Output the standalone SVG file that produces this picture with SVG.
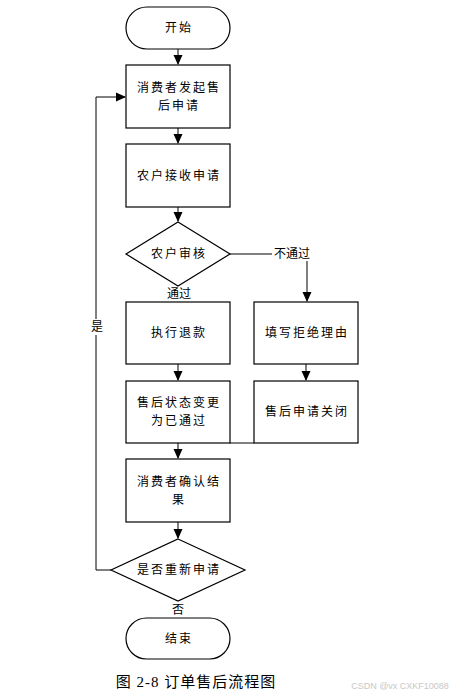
<svg xmlns="http://www.w3.org/2000/svg" width="453" height="697" viewBox="0 0 453 697">
<style>
.n{fill:#fff;stroke:#000;stroke-width:1.2}
.t{font-family:"Noto Sans CJK SC","Noto Sans",sans-serif;font-size:12px;fill:#000;text-anchor:middle;letter-spacing:2px}
.c{fill:none;stroke:#000;stroke-width:1}
.l{font-family:"Noto Sans CJK SC",sans-serif;font-size:12px;fill:#000;text-anchor:middle}
</style>
<defs>
<marker id="a" markerWidth="10" markerHeight="10" refX="9" refY="5" orient="auto" markerUnits="userSpaceOnUse">
<path d="M0,0.5 L10,5 L0,9.5 Z" fill="#000"/>
</marker>
</defs>
<rect width="453" height="697" fill="#fff"/>
<g id="connectors">
<line class="c" x1="178" y1="49" x2="178" y2="64" marker-end="url(#a)"/>
<line class="c" x1="178" y1="128" x2="178" y2="143" marker-end="url(#a)"/>
<line class="c" x1="178" y1="207" x2="178" y2="221" marker-end="url(#a)"/>
<polyline class="c" points="230,254 272,254"/>
<polyline class="c" points="307,261 307,301" marker-end="url(#a)"/>
<line class="c" x1="178" y1="364" x2="178" y2="380" marker-end="url(#a)"/>
<line class="c" x1="306" y1="364" x2="306" y2="380" marker-end="url(#a)"/>
<line class="c" x1="230" y1="443" x2="254" y2="443"/>
<line class="c" x1="178" y1="443" x2="178" y2="458" marker-end="url(#a)"/>
<line class="c" x1="178" y1="522" x2="178" y2="538" marker-end="url(#a)"/>
<polyline class="c" points="111,570 96,570 96,97 125,97" marker-end="url(#a)"/>
<rect x="89" y="319" width="15" height="16" fill="#fff"/>
<text class="l" x="97" y="331">是</text>
<text class="l" x="292" y="258">不通过</text>
<text class="l" x="179" y="298">通过</text>
<text class="l" x="178" y="614">否</text>
</g>
<g id="start"><rect class="n" x="126" y="7" width="104" height="42" rx="21"/><text class="t" x="179" y="32">开始</text></g>
<g id="apply"><rect class="n" x="126" y="65" width="104" height="63"/><text class="t" x="179" y="92">消费者发起售</text><text class="t" x="179" y="110">后申请</text></g>
<g id="receive"><rect class="n" x="126" y="144" width="104" height="63"/><text class="t" x="179" y="180">农户接收申请</text></g>
<g id="review"><polygon class="n" points="178,222 230,254 178,286 126,254"/><text class="t" x="179" y="258">农户审核</text></g>
<g id="refund"><rect class="n" x="126" y="302" width="104" height="62"/><text class="t" x="179" y="337">执行退款</text></g>
<g id="reason"><rect class="n" x="254" y="302" width="104" height="62"/><text class="t" x="307" y="337">填写拒绝理由</text></g>
<g id="passed"><rect class="n" x="126" y="381" width="104" height="62"/><text class="t" x="179" y="407">售后状态变更</text><text class="t" x="179" y="425">为已通过</text></g>
<g id="closed"><rect class="n" x="254" y="381" width="104" height="62"/><text class="t" x="307" y="416">售后申请关闭</text></g>
<g id="confirm"><rect class="n" x="126" y="459" width="104" height="63"/><text class="t" x="179" y="486">消费者确认结</text><text class="t" x="179" y="504">果</text></g>
<g id="reapply"><polygon class="n" points="178,539 245,570 178,601 111,570"/><text class="t" x="179" y="574">是否重新申请</text></g>
<g id="end"><rect class="n" x="126" y="618" width="104" height="41" rx="20.5"/><text class="t" x="179" y="643">结束</text></g>
<text x="196" y="687" style="font-family:'Liberation Serif','Noto Sans CJK SC',serif;font-size:15px;text-anchor:middle;letter-spacing:1px">图 2-8 订单售后流程图</text>
<text x="400" y="689" style="font-family:'Liberation Sans',sans-serif;font-size:9px;fill:#c8c8c8;text-anchor:middle">CSDN @vx  CXKF10088</text>
</svg>
